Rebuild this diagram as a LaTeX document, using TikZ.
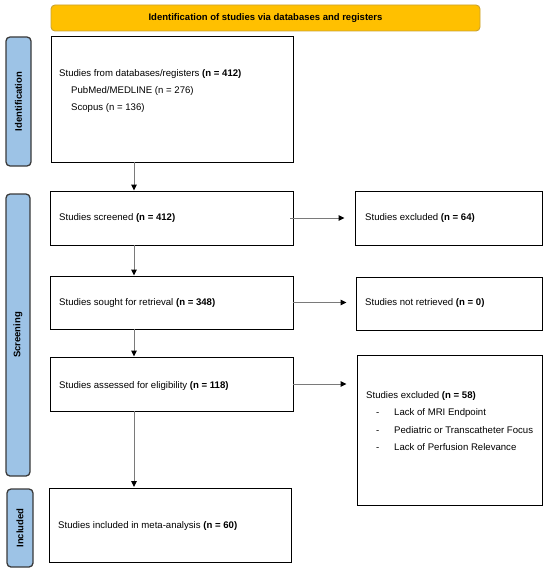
\documentclass[tikz,border=0pt]{standalone}
\usepackage{fontspec}
\setmainfont{Liberation Sans}
\usetikzlibrary{arrows.meta,calc}
\definecolor{bannerfill}{HTML}{FFC000}
\definecolor{bannerline}{HTML}{C9A233}
\definecolor{sidefill}{HTML}{9DC3E6}
\definecolor{sideline}{HTML}{3A3A3A}
\definecolor{arrline}{HTML}{7A7A7A}
\begin{document}
\begin{tikzpicture}[x=1pt,y=-1pt,
  every node/.style={font=\fontsize{9.6}{11}\selectfont, inner sep=0pt},
  box/.style={draw=black, line width=0.9pt, rectangle},
  banner/.style={draw=bannerline, fill=bannerfill, line width=0.9pt, rounded corners=4pt, font=\fontsize{9.5}{11}\selectfont\bfseries},
  side/.style={draw=sideline, fill=sidefill, line width=1.3pt, rounded corners=4pt},
  sidetext/.style={rotate=90, font=\fontsize{9.5}{11}\selectfont\bfseries},
  txt/.style={anchor=west, align=left, text height=7pt, text depth=2pt},
  arr/.style={draw=arrline, line width=1pt, -{Triangle[length=6pt,width=5.5pt,color=black]}}
]
\useasboundingbox (0,0) rectangle (550,572);

% banner
\node[banner, minimum width=429pt, minimum height=26pt] (ban) at (265.5,18) {Identification of studies via databases and registers};

% side labels
\node[side, minimum width=25pt, minimum height=129pt] (sid) at (18.5,101.5) {};
\node[sidetext] (sidt) at (sid.center) {Identification};
\node[side, minimum width=24pt, minimum height=282pt] (sscr) at (18,335) {};
\node[sidetext] (sscrt) at (sscr.center) {Screening};
\node[side, minimum width=26pt, minimum height=78pt] (sinc) at (20,528) {};
\node[sidetext] (sinct) at (sinc.center) {Included};

% main boxes
\node[box, minimum width=242pt, minimum height=126pt] (b1) at (172,99) {};
\node[txt] (b1t) at (59,74) {Studies from databases/registers \textbf{(n = 412)}};
\node[txt] (b1a) at (71,91) {PubMed/MEDLINE (n = 276)};
\node[txt] (b1b) at (71,108) {Scopus (n = 136)};

\node[box, minimum width=243pt, minimum height=54pt] (b2) at (171.5,218) {};
\node[txt] (b2t) at (59,218) {Studies screened \textbf{(n = 412)}};

\node[box, minimum width=243pt, minimum height=53pt] (b3) at (171.5,302.5) {};
\node[txt] (b3t) at (59,303) {Studies sought for retrieval \textbf{(n = 348)}};

\node[box, minimum width=243pt, minimum height=54pt] (b4) at (171.5,384) {};
\node[txt] (b4t) at (59,386) {Studies assessed for eligibility \textbf{(n = 118)}};

\node[box, minimum width=242pt, minimum height=74pt] (b5) at (170,525.5) {};
\node[txt] (b5t) at (58,526) {Studies included in meta-analysis \textbf{(n = 60)}};

% exclusion boxes
\node[box, minimum width=187pt, minimum height=54pt] (e1) at (448.5,218) {};
\node[txt] (e1t) at (365,218) {Studies excluded \textbf{(n = 64)}};

\node[box, minimum width=186pt, minimum height=53pt] (e2) at (449,303.5) {};
\node[txt] (e2t) at (365,303) {Studies not retrieved \textbf{(n = 0)}};

\node[box, minimum width=185pt, minimum height=150pt] (e3) at (449.5,430) {};
\node[txt] (e3t) at (366,396) {Studies excluded \textbf{(n = 58)}};
\node[txt] (e3d1) at (376,413) {-};
\node[txt] (e3a) at (394,413) {Lack of MRI Endpoint};
\node[txt] (e3d2) at (376,430.5) {-};
\node[txt] (e3b) at (394,430.5) {Pediatric or Transcatheter Focus};
\node[txt] (e3d3) at (376,448) {-};
\node[txt] (e3c) at (394,448) {Lack of Perfusion Relevance};

% connectors
\coordinate (ax) at (134,0);
\draw[arr] (ax |- b1.south) -- (ax |- b2.north);
\draw[arr] (ax |- b2.south) -- (ax |- b3.north);
\draw[arr] (ax |- b3.south) -- (ax |- b4.north);
\draw[arr] (ax |- b4.south) -- ($(ax |- b5.north)+(0,-1)$);

\draw[arr, shorten >=10pt, shorten <=-3pt] (b2.east) -- (e1.west |- b2.east);
\draw[arr, shorten >=9pt] (b3.east) -- (e2.west |- b3.east);
\draw[arr, shorten >=10pt] (b4.east) -- (e3.west |- b4.east);
\end{tikzpicture}
\end{document}
